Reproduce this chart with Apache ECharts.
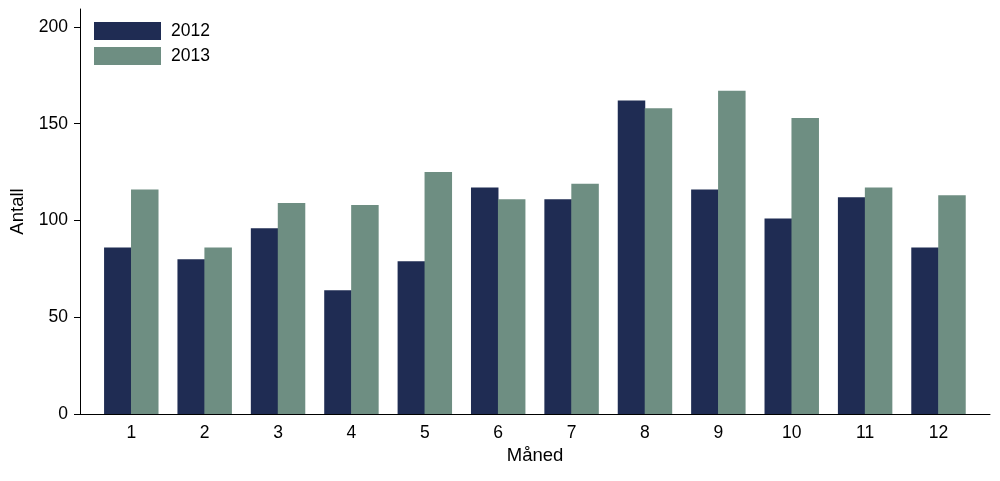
<!DOCTYPE html>
<html>
<head>
<meta charset="utf-8">
<script src="https://cdn.jsdelivr.net/npm/echarts@6/dist/echarts.min.js"></script>
<style>html,body{margin:0;padding:0;background:#fff}#c{width:1000px;height:481px}</style>
</head>
<body>
<div id="c"></div>
<script>
var months = ['1','2','3','4','5','6','7','8','9','10','11','12'];
var values2012 = [86, 80, 96, 64, 79, 117, 111, 162, 116, 101, 112, 86];
var values2013 = [116, 86, 109, 108, 125, 111, 119, 158, 167, 153, 117, 113];
var yTicks = [0, 50, 100, 150, 200];

var font = 'Liberation Sans, Arial, sans-serif';
var chart = echarts.init(document.getElementById('c'), null, {renderer: 'canvas'});
var yMax = 209.3;
chart.setOption({
  animation: false,
  backgroundColor: '#ffffff',
  textStyle: {fontFamily: font},
  legend: {
    orient: 'vertical', left: 94, top: 22, padding: 0, itemWidth: 67, itemHeight: 18, itemGap: 7,
    icon: 'rect',
    textStyle: {fontFamily: font, fontSize: 17.5, color: '#000', padding: [0, 0, 0, 5]},
    data: ['2012', '2013']
  },
  grid: [
    {left: 80, right: 10, top: 9, bottom: 67},
    {left: 94.6, right: 24.8, top: 9, bottom: 67}
  ],
  xAxis: [
    {type: 'value', gridIndex: 0, min: 0, max: 1,
     axisLine: {show: true, lineStyle: {color: '#000', width: 1}},
     axisTick: {show: false}, axisLabel: {show: false}, splitLine: {show: false},
     name: 'Måned', nameLocation: 'middle', nameGap: 32,
     nameTextStyle: {fontFamily: font, fontSize: 18.5, color: '#000'}},
    {type: 'category', gridIndex: 1, data: months,
     axisLine: {show: false}, axisTick: {show: false},
     axisLabel: {fontFamily: font, fontSize: 17.5, color: '#000', margin: 10}}
  ],
  yAxis: [
    {type: 'value', gridIndex: 0, min: 0, max: yMax,
     axisLine: {show: true, lineStyle: {color: '#000', width: 1}},
     axisTick: {show: true, length: 6, lineStyle: {color: '#000'}, customValues: yTicks},
     axisLabel: {fontFamily: font, fontSize: 17.5, color: '#000', margin: 12, customValues: yTicks},
     splitLine: {show: false},
     name: 'Antall', nameLocation: 'middle', nameGap: 50,
     nameTextStyle: {fontFamily: font, fontSize: 18.5, color: '#000'}},
    {type: 'value', gridIndex: 1, min: 0, max: yMax, show: false, splitLine: {show: false}}
  ],
  series: [
    {name: '2012', type: 'bar', xAxisIndex: 1, yAxisIndex: 1, data: values2012,
     barWidth: 27.5, barGap: '-2%', itemStyle: {color: '#1f2c53'}},
    {name: '2013', type: 'bar', xAxisIndex: 1, yAxisIndex: 1, data: values2013,
     barWidth: 27.5, barGap: '-2%', itemStyle: {color: '#6e8e82'}}
  ]
});
</script>
</body>
</html>
